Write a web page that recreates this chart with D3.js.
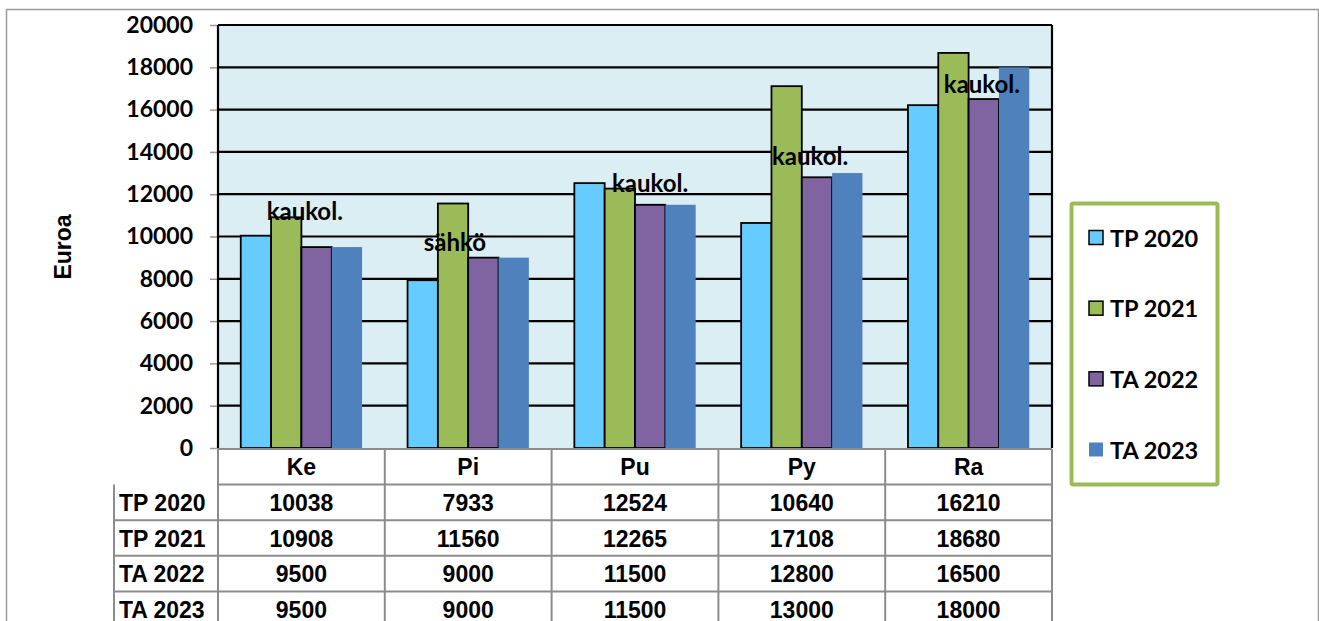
<!DOCTYPE html>
<html><head><meta charset="utf-8">
<script src="https://cdn.jsdelivr.net/npm/d3@7"></script>
<style>body{margin:0;background:#fff}svg{display:block}</style>
</head><body>
<svg id="c" width="1319" height="621"></svg>
<script>
const categories = ["Ke", "Pi", "Pu", "Py", "Ra"];
const seriesNames = ["TP 2020", "TP 2021", "TA 2022", "TA 2023"];
const tp2020 = [10038, 7933, 12524, 10640, 16210];
const tp2021 = [10908, 11560, 12265, 17108, 18680];
const ta2022 = [9500, 9000, 11500, 12800, 16500];
const ta2023 = [9500, 9000, 11500, 13000, 18000];
const yTicks = [0, 2000, 4000, 6000, 8000, 10000, 12000, 14000, 16000, 18000, 20000];
const noteCats = ["Ke", "Pi", "Pu", "Py", "Ra"];
const noteTexts = ["kaukol.", "sähkö", "kaukol.", "kaukol.", "kaukol."];
const noteValues = [10800, 9300, 12100, 13400, 16800];
const noteShift = [0.02, -0.08, 0.09, 0.05, 0.08];

const seriesValues = [tp2020, tp2021, ta2022, ta2023];
const colors = ["#66CCFF", "#9BBB59", "#8064A2", "#4F81BD"];
const strokes = ["#000", "#000", "#000", "none"];

const svg = d3.select("#c");
const calib = "Lato, 'Open Sans', sans-serif";
const arial = "'Liberation Sans', Arial, sans-serif";

// outer frame
svg.append("path").attr("d", "M6.5,621 V9.5 H1318.5 V621").attr("fill", "none").attr("stroke", "#9a9a9a").attr("stroke-width", 1.5);

const L = 218, R = 1052, T = 25, B = 448;
const x = d3.scaleBand().domain(categories).range([L, R]);
const xs = d3.scaleBand().domain(seriesNames).range([0, x.bandwidth()]).paddingInner(0).paddingOuter(0.75);
const y = d3.scaleLinear().domain([0, 20000]).range([B, T]);

// plot bg
svg.append("rect").attr("x", L).attr("y", T).attr("width", R - L).attr("height", B - T).attr("fill", "#DAEEF3");

// gridlines
svg.append("g").selectAll("line").data(yTicks.filter(d => d > 0)).join("line")
  .attr("x1", L).attr("x2", R).attr("y1", d => y(d)).attr("y2", d => y(d))
  .attr("stroke", "#000").attr("stroke-width", 2.2);

// y axis
const yAxis = d3.axisLeft(y).tickValues(yTicks).tickSize(8).tickPadding(17).tickFormat(d3.format("d"));
const ga = svg.append("g").attr("transform", `translate(${L},0)`).call(yAxis);
ga.select(".domain").remove();
ga.selectAll(".tick line").attr("stroke", "#9a9a9a").attr("stroke-width", 1.5);
ga.selectAll(".tick text").attr("font-family", calib).attr("font-weight", "bold").attr("font-size", 23).attr("fill", "#000");

// bars
seriesNames.forEach((s, si) => {
  svg.append("g").selectAll("rect").data(categories).join("rect")
    .attr("x", c => x(c) + xs(s))
    .attr("y", (c, i) => y(seriesValues[si][i]))
    .attr("width", xs.bandwidth())
    .attr("height", (c, i) => B - y(seriesValues[si][i]))
    .attr("fill", colors[si])
    .attr("stroke", strokes[si]).attr("stroke-width", 1.8);
});

// plot border
svg.append("line").attr("x1", L).attr("x2", L).attr("y1", T).attr("y2", B).attr("stroke", "#000").attr("stroke-width", 2.2);
svg.append("line").attr("x1", R).attr("x2", R).attr("y1", T).attr("y2", B).attr("stroke", "#000").attr("stroke-width", 2.2);
svg.append("line").attr("x1", L).attr("x2", R).attr("y1", T).attr("y2", T).attr("stroke", "#000").attr("stroke-width", 2.2);

// annotations
svg.append("g").selectAll("text").data(noteCats).join("text")
  .attr("x", (c, i) => x(c) + x.bandwidth() * (0.5 + noteShift[i]))
  .attr("y", (c, i) => y(noteValues[i]))
  .attr("text-anchor", "middle")
  .attr("font-family", calib).attr("font-weight", "bold").attr("font-size", 24)
  .text((c, i) => noteTexts[i]);

// axis title
svg.append("text").attr("transform", "translate(71,247) rotate(-90)")
  .attr("text-anchor", "middle").attr("font-family", arial).attr("font-weight", "bold").attr("font-size", 23)
  .text("Euroa");

// data table
const rowKeys = ["hdr"].concat(seriesNames);
const ry = d3.scaleBand().domain(rowKeys).range([449, 449 + 5 * 35.6]);
const tbl = svg.append("g");
const tc = "#8c8c8c";
rowKeys.forEach((k, i) => {
  tbl.append("line").attr("x1", i === 0 ? L : 114).attr("x2", R).attr("y1", ry(k) + ry.bandwidth()).attr("y2", ry(k) + ry.bandwidth())
    .attr("stroke", tc).attr("stroke-width", 2);
});
tbl.append("line").attr("x1", L).attr("x2", R).attr("y1", 449).attr("y2", 449).attr("stroke", tc).attr("stroke-width", 2);
tbl.append("line").attr("x1", 114).attr("x2", 114).attr("y1", ry("TP 2020")).attr("y2", 640).attr("stroke", tc).attr("stroke-width", 2);
categories.concat(["end"]).forEach((c, i) => {
  const xx = i < categories.length ? x(c) : R;
  tbl.append("line").attr("x1", xx).attr("x2", xx).attr("y1", 449).attr("y2", 640).attr("stroke", tc).attr("stroke-width", 2);
});
tbl.selectAll("text.h").data(categories).join("text").attr("class", "h")
  .attr("x", c => x(c) + x.bandwidth() / 2).attr("y", ry("hdr") + ry.bandwidth() / 2 + 8)
  .attr("text-anchor", "middle").attr("font-family", arial).attr("font-weight", "bold").attr("font-size", 23)
  .text(c => c);
seriesNames.forEach((s, si) => {
  tbl.append("text").attr("x", 119).attr("y", ry(s) + ry.bandwidth() / 2 + 8.5)
    .attr("font-family", arial).attr("font-weight", "bold").attr("font-size", 23).text(s);
  tbl.append("g").selectAll("text").data(categories).join("text")
    .attr("x", c => x(c) + x.bandwidth() / 2).attr("y", ry(s) + ry.bandwidth() / 2 + 8.5)
    .attr("text-anchor", "middle").attr("font-family", arial).attr("font-weight", "bold").attr("font-size", 23)
    .text((c, i) => seriesValues[si][i]);
});

// legend
const lg = svg.append("g");
lg.append("rect").attr("x", 1071.5).attr("y", 203.5).attr("width", 146).attr("height", 281).attr("rx", 2)
  .attr("fill", "#fff").attr("stroke", "#9BBB59").attr("stroke-width", 4);
const ly = d3.scalePoint().domain(seriesNames).range([238, 450]);
seriesNames.forEach((s, si) => {
  lg.append("rect").attr("x", 1089).attr("y", ly(s) - 7.5).attr("width", 14).attr("height", 14)
    .attr("fill", colors[si]).attr("stroke", strokes[si]).attr("stroke-width", 1.5);
  lg.append("text").attr("x", 1110).attr("y", ly(s) + 8.5).attr("font-family", calib).attr("font-weight", "bold").attr("font-size", 23.5).text(s);
});
</script>
</body></html>
